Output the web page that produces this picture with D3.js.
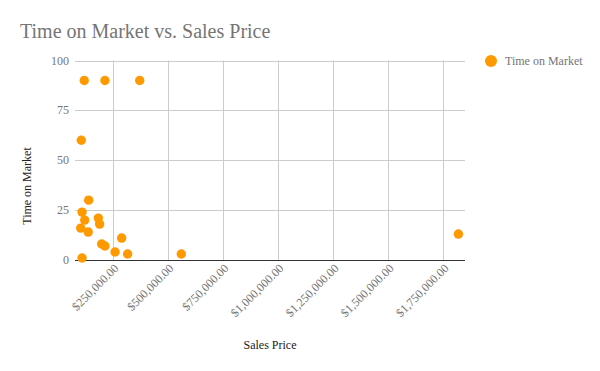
<!DOCTYPE html>
<html>
<head>
<meta charset="utf-8">
<script src="https://cdn.jsdelivr.net/npm/d3@7"></script>
<style>
  body { margin: 0; background: #fff; }
  text { font-family: "Liberation Serif", "Times New Roman", serif; }
</style>
</head>
<body>
<div id="chart"></div>
<script>
// data
const salesPrice = [118000, 212000, 370000, 104500, 138000, 108000, 120000, 102000, 136000,
  182000, 188000, 197000, 212000, 258000, 288000, 315000, 108000, 559000, 1818000];
const timeOnMarket = [90, 90, 90, 60, 30, 24, 20, 16, 14,
  21, 18, 8, 7, 4, 11, 3, 1, 3, 13];
const xTicks = [250000, 500000, 750000, 1000000, 1250000, 1500000, 1750000];
const yTicks = [0, 25, 50, 75, 100];

const width = 600, height = 371;
const plot = { left: 75, right: 465, top: 60.5, bottom: 260 };
const orange = '#ff9900';

const svg = d3.select('#chart').append('svg')
  .attr('width', width)
  .attr('height', height);

const x = d3.scaleLinear().domain([76000, 1848000]).range([plot.left, plot.right]);
const y = d3.scaleLinear().domain([0, 100]).range([plot.bottom, plot.top]);
const fmt = d3.format('$,.2f');

// grid
const grid = svg.append('g');
grid.selectAll('line.h').data(yTicks.filter(d => d > 0)).join('line')
  .attr('class', 'h')
  .attr('x1', plot.left).attr('x2', plot.right)
  .attr('y1', d => Math.round(y(d)) + 0.5).attr('y2', d => Math.round(y(d)) + 0.5)
  .attr('stroke', '#cccccc');
grid.selectAll('line.v').data(xTicks).join('line')
  .attr('class', 'v')
  .attr('x1', d => Math.round(x(d)) + 0.5).attr('x2', d => Math.round(x(d)) + 0.5)
  .attr('y1', plot.top).attr('y2', plot.bottom)
  .attr('stroke', '#cccccc');

// y axis labels
svg.append('g').selectAll('text').data(yTicks).join('text')
  .attr('x', plot.left - 6)
  .attr('y', d => y(d) + 4)
  .attr('text-anchor', 'end')
  .attr('font-size', 12)
  .attr('fill', '#757575')
  .text(d => d);

// x axis labels, rotated
svg.append('g').selectAll('text').data(xTicks).join('text')
  .attr('text-anchor', 'end')
  .attr('font-size', 12)
  .attr('fill', '#757575')
  .attr('transform', d => `translate(${x(d) + 6},${plot.bottom + 9}) rotate(-45)`)
  .text(d => fmt(d));

// baseline
svg.append('line')
  .attr('x1', plot.left).attr('x2', plot.right)
  .attr('y1', plot.bottom + 0.5).attr('y2', plot.bottom + 0.5)
  .attr('stroke', '#333333');

// points
svg.append('g').selectAll('circle').data(salesPrice).join('circle')
  .attr('cx', d => x(d))
  .attr('cy', (d, i) => y(timeOnMarket[i]))
  .attr('r', 4.7)
  .attr('fill', orange);

// titles
svg.append('text')
  .attr('x', 20).attr('y', 38)
  .attr('font-size', 20)
  .attr('fill', '#757575')
  .text('Time on Market vs. Sales Price');

svg.append('text')
  .attr('transform', 'translate(31,186) rotate(-90)')
  .attr('text-anchor', 'middle')
  .attr('font-size', 12)
  .attr('fill', '#222')
  .text('Time on Market');

svg.append('text')
  .attr('x', 270).attr('y', 349)
  .attr('text-anchor', 'middle')
  .attr('font-size', 12)
  .attr('fill', '#222')
  .text('Sales Price');

// legend
const legend = svg.append('g');
legend.append('circle')
  .attr('cx', 491).attr('cy', 61).attr('r', 6)
  .attr('fill', orange);
legend.append('text')
  .attr('x', 505).attr('y', 65)
  .attr('font-size', 12)
  .attr('fill', '#757575')
  .text('Time on Market');
</script>
</body>
</html>
